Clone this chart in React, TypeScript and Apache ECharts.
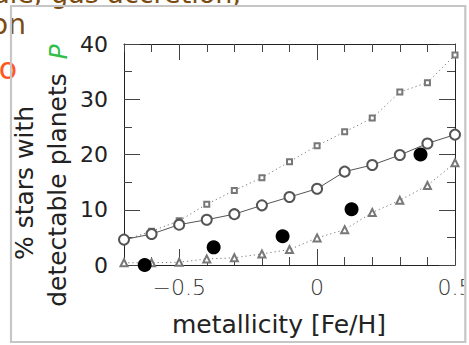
import React, { useEffect, useRef } from "react";
import * as echarts from "echarts";

// Data
const metallicity = [-0.7, -0.6, -0.5, -0.4, -0.3, -0.2, -0.1, 0, 0.1, 0.2, 0.3, 0.4, 0.5];
const upperModel = [4.5, 6.1, 8.0, 11.0, 13.5, 15.8, 18.7, 21.6, 24.1, 26.6, 31.3, 33.0, 38.0];
const middleModel = [4.6, 5.6, 7.3, 8.2, 9.2, 10.8, 12.3, 13.8, 16.9, 18.1, 19.9, 22.0, 23.6];
const lowerModel = [0.4, 0.4, 0.5, 1.1, 1.3, 2.0, 2.8, 4.9, 6.4, 9.5, 11.7, 14.4, 18.5];
const binCenters = [-0.625, -0.375, -0.125, 0.125, 0.375];
const observed = [0, 3.2, 5.2, 10.1, 20.0];
const xMajorTicks = [-0.5, 0, 0.5];
const yTicks = [0, 10, 20, 30, 40];

const FONT = "DejaVu Sans";

export default function App() {
  const ref = useRef<HTMLDivElement>(null);
  useEffect(() => {
    if (!ref.current) return;
    const chart = echarts.init(ref.current, undefined, { renderer: "svg" });
    const pair = (xs: number[], ys: number[]) => xs.map((x, i) => [x, ys[i]]);
    const baseX = {
      type: "value",
      min: -0.7,
      max: 0.5,
      axisLine: { show: false, onZero: false },
      splitLine: { show: false },
    };
    const minorX = (pos: string) => ({
      ...baseX,
      position: pos,
      interval: 0.1,
      axisLine: { show: true, onZero: false, lineStyle: { color: "#222", width: 1 } },
      axisTick: { show: true, inside: true, length: 8, lineStyle: { color: "#444", width: 1 } },
      axisLabel: { show: false },
    });
    const majorX = (pos: string, labels: boolean) => ({
      ...baseX,
      position: pos,
      axisTick: {
        show: true,
        inside: true,
        length: 16,
        customValues: xMajorTicks,
        lineStyle: { color: "#444", width: 1 },
      },
      axisLabel: {
        show: labels,
        customValues: xMajorTicks,
        fontFamily: FONT,
        fontSize: 22,
        fontWeight: 200,
        color: "#333",
        margin: 11,
        formatter: (v: number) => (v < 0 ? "\u2212" + String(Math.abs(v)) : String(v)),
      },
    });
    const yAx = (pos: string, labels: boolean) => ({
      type: "value",
      position: pos,
      min: yTicks[0],
      max: yTicks[yTicks.length - 1],
      interval: 10,
      axisLine: { show: true, onZero: false, lineStyle: { color: "#222", width: 1 } },
      axisTick: { show: true, inside: true, length: 16, lineStyle: { color: "#444", width: 1 } },
      minorTick: { show: true, splitNumber: 2, length: 8, lineStyle: { color: "#444", width: 1 } },
      splitLine: { show: false },
      axisLabel: {
        show: labels,
        fontFamily: FONT,
        fontSize: 22,
        color: "#222",
        margin: 16,
      },
    });
    chart.setOption({
      animation: false,
      grid: { left: 124, right: 14, top: 44, bottom: 80, containLabel: false, outerBoundsMode: "none" },
      xAxis: [minorX("bottom"), majorX("bottom", true), minorX("top"), majorX("top", false)],
      yAxis: [yAx("left", true), yAx("right", false)],
      series: [
        {
          type: "line",
          data: pair(metallicity, upperModel),
          symbol: "emptyRect",
          symbolSize: 5,
          clip: false,
          itemStyle: { color: "#777", borderWidth: 0.8 },
          lineStyle: { color: "#777", width: 1, type: [1.2, 3] },
        },
        {
          type: "line",
          data: pair(metallicity, middleModel),
          symbol: "emptyCircle",
          symbolSize: 10,
          clip: false,
          itemStyle: { color: "#555", borderWidth: 0.9 },
          lineStyle: { color: "#555", width: 1 },
        },
        {
          type: "line",
          data: pair(metallicity, lowerModel),
          symbol: "emptyTriangle",
          symbolSize: 7,
          clip: false,
          itemStyle: { color: "#777", borderWidth: 0.7 },
          lineStyle: { color: "#777", width: 1, type: [1.2, 3] },
        },
        {
          type: "scatter",
          data: pair(binCenters, observed),
          symbol: "circle",
          symbolSize: 14,
          clip: false,
          itemStyle: { color: "#000", opacity: 1 },
          z: 5,
        },
      ],
      graphic: [
        {
          type: "text",
          x: 241,
          y: -7,
          style: {
            text: "ale, gas accretion,",
            fontFamily: FONT,
            fontSize: 27,
            fill: "#7b4b12",
            align: "right",
            verticalAlign: "middle",
          },
        },
        {
          type: "text",
          x: 26,
          y: 24,
          style: { text: "on", fontFamily: FONT, fontSize: 28, fill: "#7b4b12", align: "right", verticalAlign: "middle" },
        },
        {
          type: "text",
          x: 17,
          y: 68,
          style: { text: "o", fontFamily: FONT, fontSize: 30, fill: "#ff5520", align: "right", verticalAlign: "middle" },
        },
        {
          type: "text",
          x: 24,
          y: 183,
          rotation: Math.PI / 2,
          style: { text: "% stars with", fontFamily: FONT, fontSize: 25, fill: "#222", align: "center", verticalAlign: "middle" },
        },
        {
          type: "text",
          x: 57,
          y: 190,
          rotation: Math.PI / 2,
          style: { text: "detectable planets", fontFamily: FONT, fontSize: 25, fill: "#222", align: "center", verticalAlign: "middle" },
        },
        {
          type: "text",
          x: 58,
          y: 52,
          rotation: Math.PI / 2,
          style: { text: "P", fontFamily: FONT, fontSize: 25, fontStyle: "italic", fill: "#2fbf4a", align: "center", verticalAlign: "middle" },
        },
        {
          type: "text",
          x: 279,
          y: 324,
          style: { text: "metallicity [Fe/H]", fontFamily: FONT, fontSize: 25, fill: "#222", align: "center", verticalAlign: "middle" },
        },
        {
          type: "rect",
          shape: { x: 464, y: 0, width: 10, height: 345 },
          style: { fill: "#fff" },
          z: 100,
        },
        {
          type: "rect",
          shape: { x: 11, y: 6, width: 454.3, height: 336 },
          style: { fill: "none", stroke: "#c6c6c6", lineWidth: 2.2 },
          z: 101,
        },
      ],
    });
    return () => chart.dispose();
  }, []);
  return (
    <div
      ref={ref}
      style={{ position: "fixed", left: 0, top: 0, width: 469, height: 345, background: "#fff" }}
    />
  );
}
